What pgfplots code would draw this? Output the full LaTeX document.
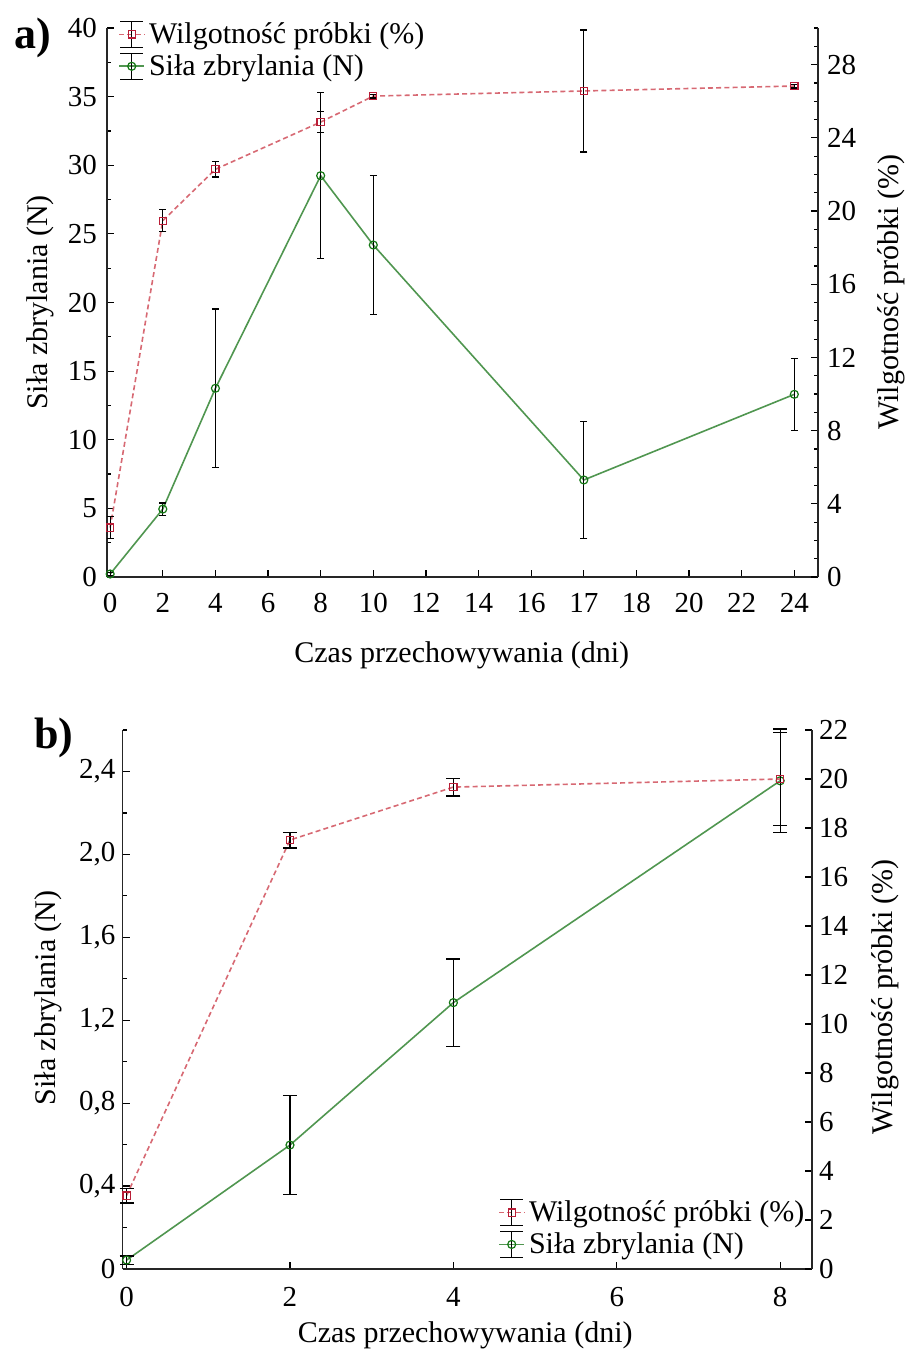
\documentclass[border=0pt]{standalone}
\usepackage{fontspec}
\setmainfont{Liberation Serif}
\usepackage{pgfplots}
\pgfplotsset{compat=1.18}

\definecolor{redline}{RGB}{215,105,115}
\definecolor{redmark}{RGB}{185,30,55}
\definecolor{greenline}{RGB}{80,150,80}
\definecolor{greenmark}{RGB}{20,120,20}

\pgfplotsset{
  base/.style={
    scale only axis, clip=false,
    tick align=inside,
    axis line style={line width=0.7pt, black!85},
    every tick/.style={line width=0.6pt, black},
    major tick length=3.5pt, minor tick length=2.2pt,
    /pgf/number format/assume math mode=true,
    tick label style={font=\fontsize{14.5}{16}\selectfont},
    label style={font=\fontsize{15}{18}\selectfont},
    error bars/y dir=both, error bars/y explicit,
    error bars/error bar style={black, solid, line width=0.65pt},
  },
  redst/.style={color=redline, line width=0.8pt, dash pattern=on 2.5pt off 1.6pt,
    mark=square, mark size=1.8pt, mark options={solid, draw=redmark, fill=white, line width=0.6pt}},
  greenst/.style={color=greenline, line width=0.8pt, solid,
    mark=o, mark size=2pt, mark options={solid, draw=greenmark, fill=white, line width=0.6pt}},
  errleg/.style={legend image code/.code={
     \draw[##1,mark=none] (0pt,0pt) -- (12.5pt,0pt);
     \draw[black,solid,line width=0.6pt] (6.25pt,-6.5pt) -- (6.25pt,6.5pt)
        (0.5pt,-6.5pt) -- (12pt,-6.5pt) (0.5pt,6.5pt) -- (12pt,6.5pt);
     \draw[##1] plot coordinates {(6.25pt,0pt)};
  }},
}

\begin{document}
\begin{tikzpicture}
\useasboundingbox (0pt,0pt) rectangle (453pt,-678.5pt);

% ---------------- panel a ----------------
\node[font=\bfseries\fontsize{22}{24}\selectfont] at (16.5pt,-19pt) {a)};

\begin{axis}[base,
  at={(53.5pt,-288.5pt)}, anchor=south west,
  width=355.5pt, height=274.5pt,
  xmin=-0.06, xmax=13.45, ymin=0, ymax=40,
  axis x line*=bottom, axis y line*=left,
  xtick={0,...,13}, xticklabels={0,2,4,6,8,10,12,14,16,17,18,20,22,24},
  ytick={0,5,...,40}, minor ytick={2.5,7.5,...,37.5},
  xticklabel style={yshift=-4.5pt},
  yticklabel style={xshift=-1.5pt},
  error bars/error mark options={rotate=90, black, mark size=1.75pt, line width=0.65pt},
  xlabel={Czas przechowywania (dni)},
  ylabel={Siła zbrylania (N)},
  xlabel style={at={(axis description cs:0.499,-0.142)}, anchor=center},
  ylabel style={at={(axis description cs:-0.094,0.5)}, anchor=center},
]
\addplot[greenst] coordinates {
  (0,0.22) +- (0,0.1)
  (1,4.95) +- (0,0.45)
  (2,13.75) +- (0,5.77)
  (4,29.24) +- (0,6.05)
  (5,24.19) +- (0,5.07)
  (9,7.07) +- (0,4.25)
  (13,13.31) +- (0,2.63)
};
\end{axis}

\begin{axis}[base,
  at={(53.5pt,-288.5pt)}, anchor=south west,
  width=355.5pt, height=274.5pt,
  xmin=-0.06, xmax=13.45, ymin=0, ymax=30,
  axis x line=none, axis y line*=right,
  ytick={0,4,...,28}, minor ytick={0,...,30},
  yticklabel style={xshift=1pt},
  error bars/error mark options={rotate=90, black, mark size=1.75pt, line width=0.65pt},
  ylabel={Wilgotność próbki (\%)},
  ylabel style={at={(axis description cs:1.103,0.519)}, anchor=center},
  legend style={draw=none, fill=none, at={(axis description cs:0.0155,1.018)}, anchor=north west,
    font=\fontsize{15}{18}\selectfont, legend cell align=left, inner sep=0pt, row sep=0pt,
    nodes={inner sep=2pt}},
]
\addplot[redst, forget plot] coordinates {
  (0,2.7) +- (0,0.6)
  (1,19.47) +- (0,0.6)
  (2,22.28) +- (0,0.42)
  (4,24.86) +- (0,0.56)
  (5,26.28) +- (0,0.1)
  (9,26.56) +- (0,3.33)
  (13,26.83) +- (0,0.1)
};
\addlegendimage{redst, errleg}
\addlegendentry{Wilgotność próbki (\%)}
\addlegendimage{greenst, errleg}
\addlegendentry{Siła zbrylania (N)}
\end{axis}

% ---------------- panel b ----------------
\node[font=\bfseries\fontsize{22}{24}\selectfont] at (27pt,-369pt) {b)};

\begin{axis}[base,
  at={(61.25pt,-634.5pt)}, anchor=south west,
  width=344.75pt, height=269.5pt,
  xmin=-0.05, xmax=8.39, ymin=0, ymax=2.6,
  axis x line*=bottom, axis y line*=left,
  xtick={0,2,4,6,8},
  ytick={0,0.4,0.8,1.2,1.6,2.0,2.4},
  yticklabels={0,{0,4},{0,8},{1,2},{1,6},{2,0},{2,4}},
  minor ytick={0.2,0.6,1.0,1.4,1.8,2.2,2.6},
  xticklabel style={yshift=-5.5pt},
  error bars/error mark options={rotate=90, black, mark size=3.5pt, line width=0.65pt},
  xlabel={Czas przechowywania (dni)},
  ylabel={Siła zbrylania (N)},
  xlabel style={at={(axis description cs:0.497,-0.1225)}, anchor=center},
  ylabel style={at={(axis description cs:-0.108,0.503)}, anchor=center},
]
\addplot[greenst] coordinates {
  (0,0.043) +- (0,0.02)
  (2,0.598) +- (0,0.24)
  (4,1.285) +- (0,0.21)
  (8,2.355) +- (0,0.25)
};
\end{axis}

\begin{axis}[base,
  at={(61.25pt,-634.5pt)}, anchor=south west,
  width=344.75pt, height=269.5pt,
  xmin=-0.05, xmax=8.39, ymin=0, ymax=22,
  axis x line=none, axis y line*=right,
  ytick={0,2,...,22},
  error bars/error mark options={rotate=90, black, mark size=3.5pt, line width=0.65pt},
  ylabel={Wilgotność próbki (\%)},
  ylabel style={at={(axis description cs:1.106,0.505)}, anchor=center},
  legend style={draw=none, fill=none, at={(axis description cs:0.5446,0.135)}, anchor=north west,
    font=\fontsize{15}{18}\selectfont, legend cell align=left, inner sep=0pt, row sep=0pt,
    nodes={inner sep=2pt}},
]
\addplot[redst, forget plot] coordinates {
  (0,3.0) +- (0,0.3)
  (2,17.51) +- (0,0.32)
  (4,19.67) +- (0,0.36)
  (8,20.0) +- (0,1.9)
};
\addlegendimage{redst, errleg}
\addlegendentry{Wilgotność próbki (\%)}
\addlegendimage{greenst, errleg}
\addlegendentry{Siła zbrylania (N)}
\end{axis}
\end{tikzpicture}
\end{document}
